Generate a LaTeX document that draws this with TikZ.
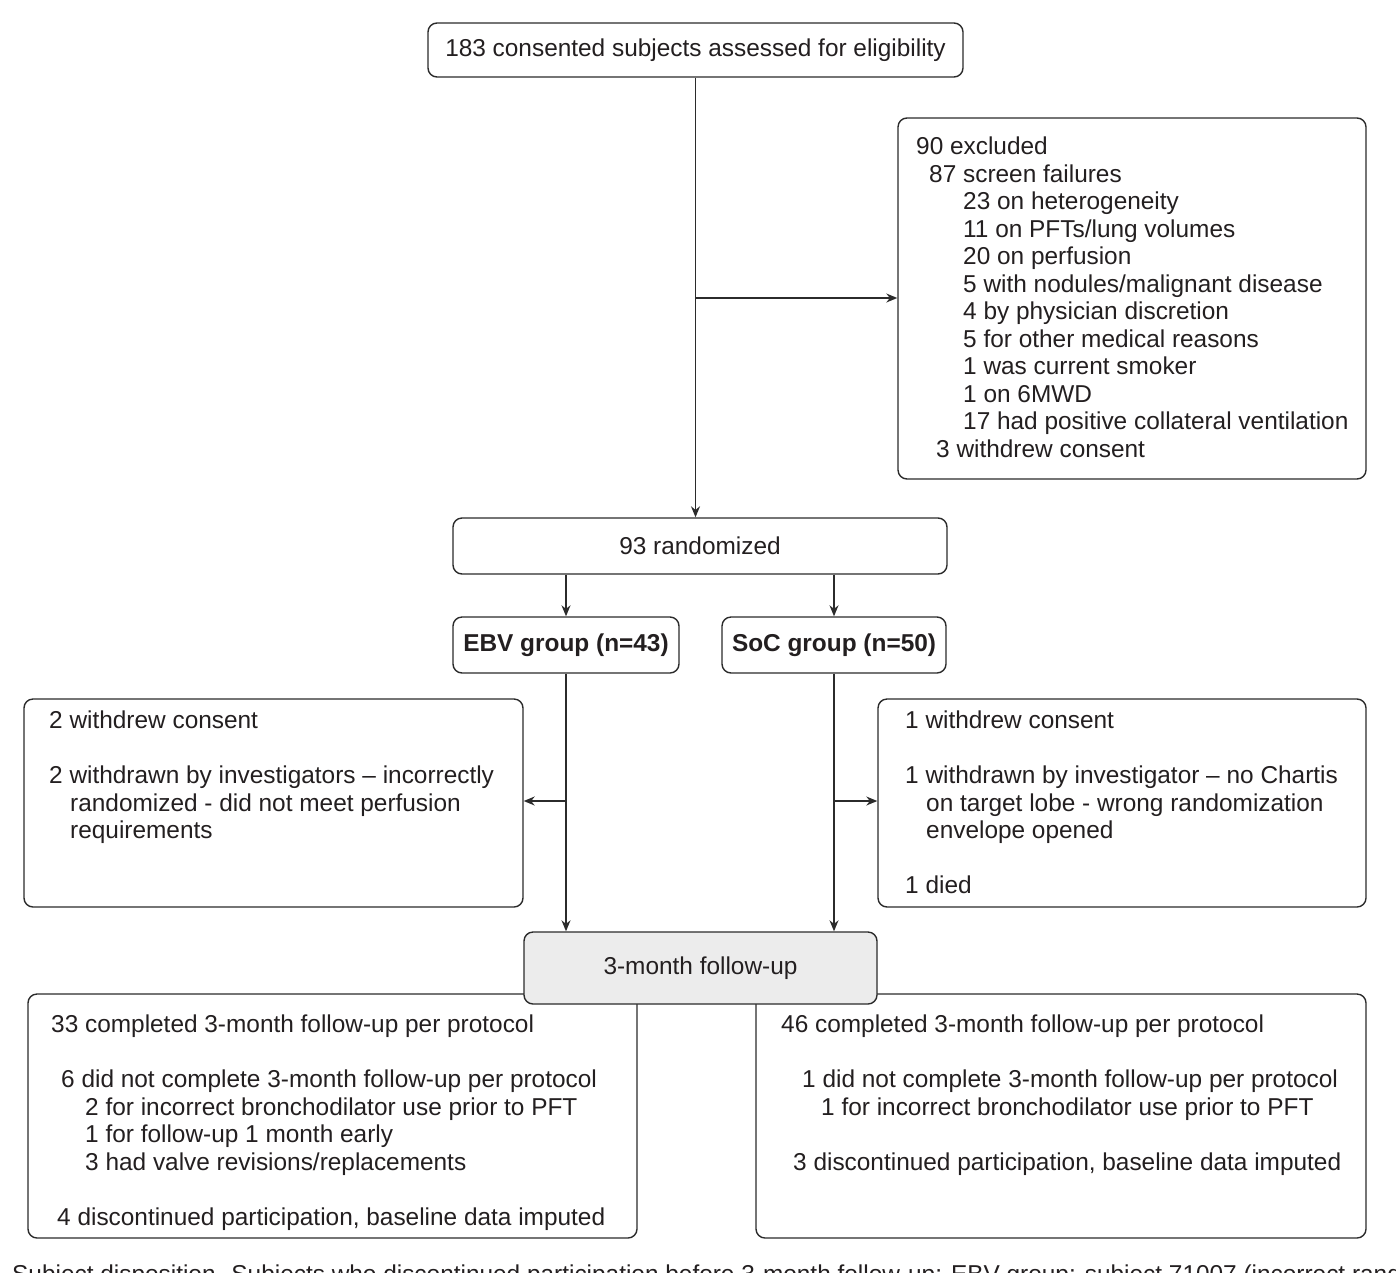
\documentclass[tikz,border=0pt]{standalone}
\usepackage{fontspec}
\setmainfont{Liberation Sans}
\usetikzlibrary{arrows.meta}
\definecolor{ink}{HTML}{231F20}
\definecolor{edge}{HTML}{2B2B2B}
\definecolor{shade}{HTML}{ECECEC}

\begin{document}
\begin{tikzpicture}[x=1pt,y=-1pt,
  every node/.style={font=\fontsize{24.4}{27.5}\selectfont, text=ink},
  box/.style={draw=edge, line width=1.4pt, rounded corners=9pt, inner sep=0pt, fill=white},
  greybox/.style={box, fill=shade},
  txt/.style={anchor=north west, inner sep=0pt, align=left},
  flow/.style={draw=edge, line width=1.4pt, -{Stealth[length=11pt,width=9pt]}},
  link/.style={draw=edge, line width=1.4pt}]

\useasboundingbox (0,0) rectangle (1396,1272);
\clip (0,0) rectangle (1396,1272);

% ---- boxes ----
\node[box, minimum width=535pt, minimum height=54pt] (screen) at (695.5,50)
  {183 consented subjects assessed for eligibility};
\node[box, minimum width=468pt, minimum height=361pt] (excl) at (1132,298.5) {};
\node[box, minimum width=494pt, minimum height=56pt] (rand) at (700,546) {93 randomized};
\node[box, minimum width=226pt, minimum height=56pt, font=\fontsize{24.4}{27.5}\selectfont\bfseries] (ebv) at (566,645) {EBV group (n=43)};
\node[box, minimum width=224pt, minimum height=56pt, font=\fontsize{24.4}{27.5}\selectfont\bfseries] (soc) at (834,645) {SoC group (n=50)};
\node[box, minimum width=499pt, minimum height=208pt] (wl) at (273.5,803) {};
\node[box, minimum width=488pt, minimum height=208pt] (wr) at (1122,803) {};
\node[box, minimum width=609pt, minimum height=244pt] (bl) at (332.5,1116) {};
\node[box, minimum width=610pt, minimum height=244pt] (br) at (1061,1116) {};
\node[greybox, minimum width=353pt, minimum height=72pt] (follow) at (700.5,968) {3-month follow-up};

% ---- box texts ----
\node[txt] (exclT) at (916,135.5) {\strut 90 excluded\\
  \hspace*{13pt}87 screen failures\\
  \hspace*{47pt}23 on heterogeneity\\
  \hspace*{47pt}11 on PFTs/lung volumes\\
  \hspace*{47pt}20 on perfusion\\
  \hspace*{47pt}5 with nodules/malignant disease\\
  \hspace*{47pt}4 by physician discretion\\
  \hspace*{47pt}5 for other medical reasons\\
  \hspace*{47pt}1 was current smoker\\
  \hspace*{47pt}1 on 6MWD\\
  \hspace*{47pt}17 had positive collateral ventilation\\
  \hspace*{20pt}3 withdrew consent};

\node[txt] (wlT) at (49,709.5) {\strut 2 withdrew consent\\[27.5pt]
  2 withdrawn by investigators – incorrectly\\
  \hspace*{21pt}randomized - did not meet perfusion\\
  \hspace*{21pt}requirements};

\node[txt] (wrT) at (905,709.5) {\strut 1 withdrew consent\\[27.5pt]
  1 withdrawn by investigator – no Chartis\\
  \hspace*{21pt}on target lobe - wrong randomization\\
  \hspace*{21pt}envelope opened\\[27.5pt]
  1 died};

\node[txt] (blT) at (51,1013.5) {\strut 33 completed 3-month follow-up per protocol\\[27.5pt]
  \hspace*{10pt}6 did not complete 3-month follow-up per protocol\\
  \hspace*{34pt}2 for incorrect bronchodilator use prior to PFT\\
  \hspace*{34pt}1 for follow-up 1 month early\\
  \hspace*{34pt}3 had valve revisions/replacements\\[27.5pt]
  \hspace*{6pt}4 discontinued participation, baseline data imputed};

\node[txt] (brT) at (781,1013.5) {\strut 46 completed 3-month follow-up per protocol\\[27.5pt]
  \hspace*{21pt}1 did not complete 3-month follow-up per protocol\\
  \hspace*{40pt}1 for incorrect bronchodilator use prior to PFT\\[27.5pt]
  \hspace*{12pt}3 discontinued participation, baseline data imputed};

% ---- connectors ----
\draw[flow] (screen.south) -- (screen.south |- rand.north);
\coordinate (split) at (695,298);
\draw[flow] (split) -- (split -| excl.west);

\draw[flow] (ebv.north |- rand.south) -- (ebv.north);
\draw[flow] (soc.north |- rand.south) -- (soc.north);

\draw[flow] (ebv.south) -- (ebv.south |- follow.north);
\draw[flow] (soc.south) -- (soc.south |- follow.north);
\coordinate (ebvsplit) at (566,801);
\coordinate (socsplit) at (834,801);
\draw[flow] (ebvsplit) -- (ebvsplit -| wl.east);
\draw[flow] (socsplit) -- (socsplit -| wr.west);

% ---- caption (runs past the lower edge) ----
\node[anchor=base west, inner sep=0pt] (caption) at (12,1282.5)
  {Subject disposition. Subjects who discontinued participation before 3-month follow-up: EBV group: subject 71007 (incorrect random};
\end{tikzpicture}
\end{document}
